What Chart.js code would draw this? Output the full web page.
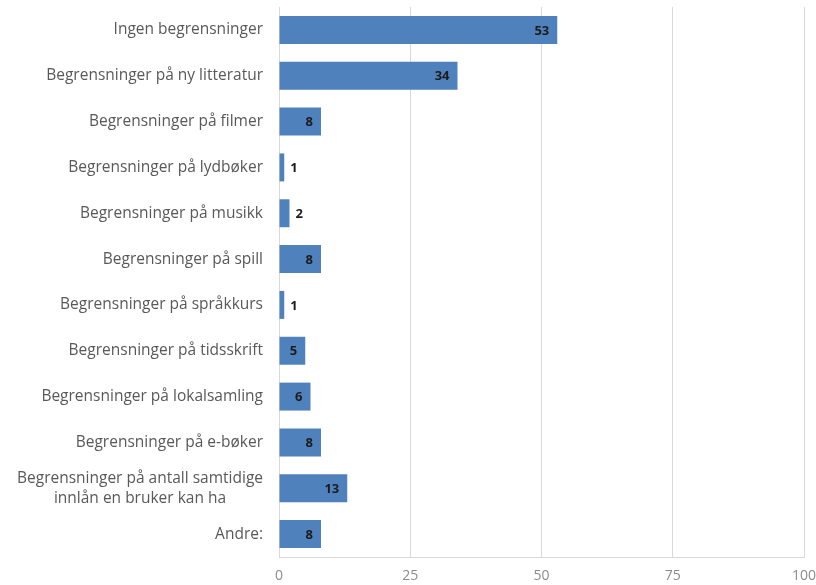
<!DOCTYPE html>
<html>
<head>
<meta charset="utf-8">
<script src="https://cdn.jsdelivr.net/npm/chart.js@4/dist/chart.umd.min.js"></script>
<style>
  body { margin: 0; background: #fff; }
  #wrap { width: 816px; height: 585px; }
</style>
</head>
<body>
<div id="wrap"><canvas id="barChart" width="816" height="585"></canvas></div>
<script>
// --- chart data ---
const categories = [
  "Ingen begrensninger",
  "Begrensninger på ny litteratur",
  "Begrensninger på filmer",
  "Begrensninger på lydbøker",
  "Begrensninger på musikk",
  "Begrensninger på spill",
  "Begrensninger på språkkurs",
  "Begrensninger på tidsskrift",
  "Begrensninger på lokalsamling",
  "Begrensninger på e-bøker",
  ["Begrensninger på antall samtidige", "innlån en bruker kan ha"],
  "Andre:"
];
const counts = [53, 34, 8, 1, 2, 8, 1, 5, 6, 8, 13, 8];
const xTicks = [0, 25, 50, 75, 100];

const barColor = "#4f81bd";
const labelFont = "'Open Sans', Lato, sans-serif";

// y labels: right aligned block, lines centered inside a multi-line block
const categoryLabels = {
  id: "categoryLabels",
  afterDraw(chart) {
    const ctx = chart.ctx;
    const yScale = chart.scales.y;
    const right = chart.chartArea.left - 16;
    ctx.save();
    ctx.font = "15.5px " + labelFont;
    ctx.fillStyle = "#595959";
    ctx.textBaseline = "middle";
    categories.forEach((lab, i) => {
      const y = yScale.getPixelForValue(i);
      const lines = Array.isArray(lab) ? lab : [lab];
      const lineH = 20;
      const blockW = Math.max(...lines.map((l) => ctx.measureText(l).width));
      const cx = right - blockW / 2;
      lines.forEach((l, j) => {
        const ly = y + (j - (lines.length - 1) / 2) * lineH;
        ctx.textAlign = lines.length > 1 ? "center" : "right";
        ctx.fillText(l, lines.length > 1 ? cx : right, ly);
      });
    });
    ctx.restore();
  }
};

// value labels: inside end, or just outside if the bar is too short
const valueLabels = {
  id: "valueLabels",
  afterDatasetsDraw(chart) {
    const ctx = chart.ctx;
    const meta = chart.getDatasetMeta(0);
    ctx.save();
    ctx.font = "bold 13px " + labelFont;
    ctx.fillStyle = "#1c1c1c";
    ctx.textBaseline = "middle";
    meta.data.forEach((bar, i) => {
      const txt = String(counts[i]);
      const w = ctx.measureText(txt).width;
      const barW = bar.x - bar.base;
      if (barW > w + 14) {
        ctx.textAlign = "right";
        ctx.fillText(txt, bar.x - 8, bar.y + 1);
      } else {
        ctx.textAlign = "left";
        ctx.fillText(txt, bar.x + 6, bar.y + 1);
      }
    });
    ctx.restore();
  }
};

const ctx = document.getElementById("barChart").getContext("2d");
new Chart(ctx, {
  type: "bar",
  data: {
    labels: categories,
    datasets: [
      {
        data: counts,
        backgroundColor: barColor,
        borderWidth: 0,
        categoryPercentage: 1,
        barPercentage: 0.61
      }
    ]
  },
  options: {
    indexAxis: "y",
    responsive: false,
    animation: false,
    layout: { padding: { top: 7, right: 12, left: 0, bottom: 0 } },
    plugins: {
      legend: { display: false },
      tooltip: { enabled: false }
    },
    scales: {
      x: {
        min: 0,
        max: 100,
        afterBuildTicks: (axis) => {
          axis.ticks = xTicks.map((v) => ({ value: v }));
        },
        afterFit: (axis) => {
          axis.height = 28;
          axis.paddingLeft = 0;
          axis.paddingRight = 0;
        },
        grid: { color: "#d9d9d9", drawTicks: false },
        border: { color: "#d9d9d9" },
        ticks: {
          padding: 11,
          color: "#8c8c8c",
          font: { family: labelFont, size: 14 }
        }
      },
      y: {
        afterFit: (axis) => {
          axis.width = 279;
        },
        grid: { display: false },
        border: { color: "#d9d9d9" },
        ticks: { display: false }
      }
    }
  },
  plugins: [categoryLabels, valueLabels]
});
</script>
</body>
</html>
